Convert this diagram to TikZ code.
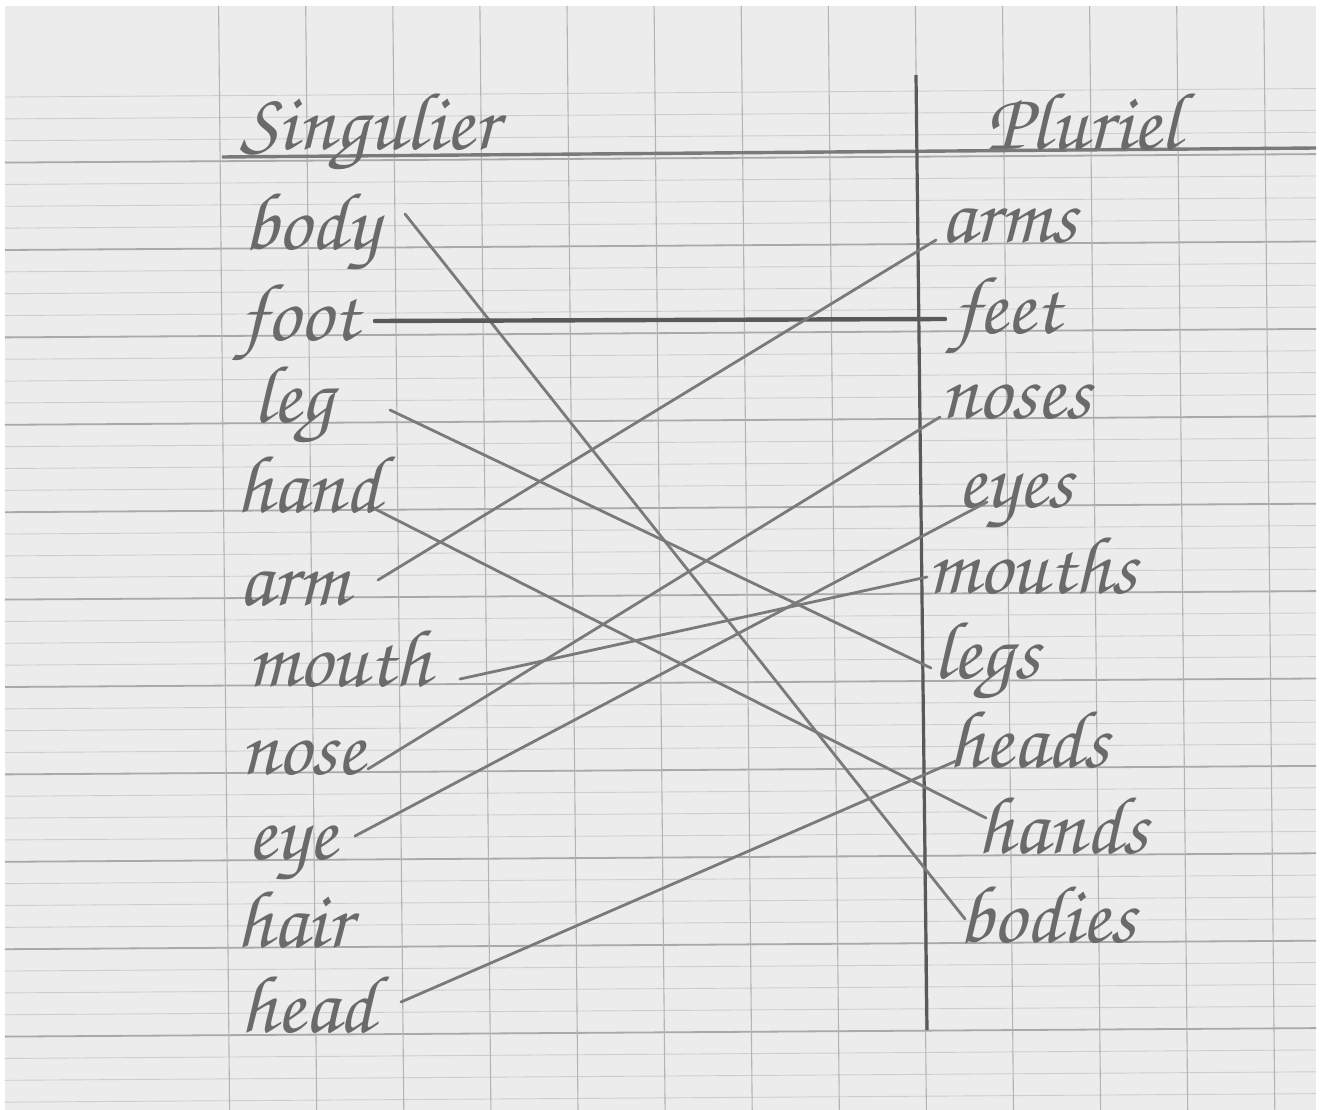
\documentclass[tikz,border=0pt]{standalone}
\usepackage[T1,TU]{fontenc}
\usepackage{tikz}
\usetikzlibrary{positioning}
\definecolor{paper}{HTML}{ECECEC}
\definecolor{pencil}{HTML}{6A6A6A}
\definecolor{linepencil}{HTML}{7A7A7A}
\definecolor{darkpencil}{HTML}{595959}
\definecolor{thickrule}{HTML}{A9A9A9}
\definecolor{thinrule}{HTML}{CDCDCD}
\definecolor{colrule}{HTML}{B4B4B4}
\newcommand{\pencilfont}{\usefont{T1}{pzc}{mb}{it}\fontsize{82}{84}\selectfont}

\begin{document}
\begin{tikzpicture}[x=1pt, y=-1pt]
    \tikzstyle{word} = [anchor=base west, inner sep=0pt, text=pencil, font=\pencilfont]
    \tikzstyle{link} = [draw=linepencil, line width=2.8pt, line cap=round]
    \tikzstyle{thinline} = [draw=thinrule, line width=0.9pt]
    \tikzstyle{thickline} = [draw=thickrule, line width=1.8pt]
    \tikzstyle{colline} = [draw=colrule, line width=1.1pt]

    \useasboundingbox (0,0) rectangle (1322,1110);
    \fill[white] (0,0) rectangle (1322,1110);
    \fill[paper] (5,6) rectangle (1316,1110);

    \foreach \j in {-3,...,43}
        \draw[thinline] (5,{162+21.85*\j+0.6}) -- (1316,{162+21.85*\j-7.9});
    \foreach \k in {0,...,10}
        \draw[thickline] (5,{162+87.4*\k+0.6}) -- (1316,{162+87.4*\k-7.9});
    \foreach \k in {0,...,12}
        \draw[colline] ({220+87.1*\k-1.4},6) -- ({220+87.1*\k+9.6},1110);

    \draw[draw=linepencil, line width=3.4pt] (222,157) -- (1316,148);
    \draw[draw=darkpencil, line width=3.2pt] (916,75) -- (927,1030);

    \node[word] (singulier) at (240,150) {Singulier};
    \node[word] (pluriel) at (986,150) {Pluriel};

    \node[word] (body) at (243,249) {body};
    \node[word] (foot) at (240,340) {foot};
    \node[word] (leg) at (253,422) {leg};
    \node[word] (hand) at (236,512) {hand};
    \node[word] (arm) at (238,605) {arm};
    \node[word] (mouth) at (247,686) {mouth};
    \node[word] (nose) at (240,774) {nose};
    \node[word] (eye) at (247,859) {eye};
    \node[word] (hair) at (236,947) {hair};
    \node[word] (head) at (240,1032) {head};

    \node[word] (arms) at (940,242) {arms};
    \node[word] (feet) at (953,333) {feet};
    \node[word] (noses) at (940,418) {noses};
    \node[word] (eyes) at (957,507) {eyes};
    \node[word] (mouths) at (927,593) {mouths};
    \node[word] (legs) at (933,678) {legs};
    \node[word] (heads) at (948,767) {heads};
    \node[word] (hands) at (977,853) {hands};
    \node[word] (bodies) at (958,942) {bodies};

    \draw[link] ([shift={(162,-35)}]body.base west) -- ([shift={(7,-23)}]bodies.base west);
    \draw[link, draw=darkpencil, line width=4.4pt] ([shift={(135,-19)}]foot.base west) -- ([shift={(-8,-14)}]feet.base west);
    \draw[link] ([shift={(137,-12)}]leg.base west) -- ([shift={(-2,-10)}]legs.base west);
    \draw[link] ([shift={(139,-3)}]hand.base west) -- ([shift={(9,-35)}]hands.base west);
    \draw[link] ([shift={(140,-25)}]arm.base west) -- ([shift={(-4,-2)}]arms.base west);
    \draw[link] ([shift={(213,-7)}]mouth.base west) -- ([shift={(0,-16)}]mouths.base west);
    \draw[link] ([shift={(128,-5)}]nose.base west) -- ([shift={(0,-1)}]noses.base west);
    \draw[link] ([shift={(108,-23)}]eye.base west) -- ([shift={(30,-5)}]eyes.base west);
    \draw[link] ([shift={(161,-30)}]head.base west) -- ([shift={(8,-6)}]heads.base west);
\end{tikzpicture}
\end{document}
